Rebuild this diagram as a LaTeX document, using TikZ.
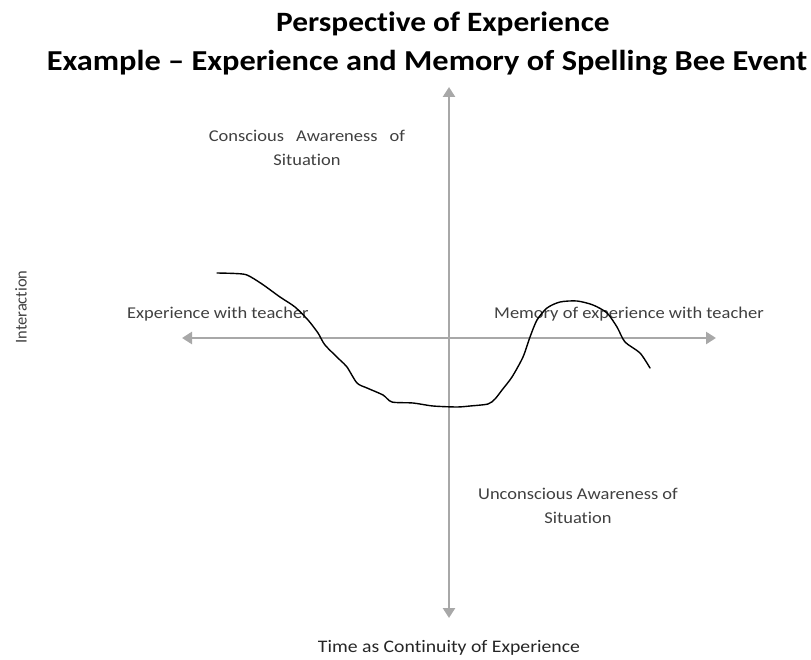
\documentclass[tikz,border=0pt]{standalone}
\usepackage{fontspec}
\setmainfont[FakeStretch=1.12,Ligatures=NoCommon]{Carlito}
\newfontfamily\plainfont[Ligatures=NoCommon]{Carlito}
\usetikzlibrary{arrows.meta}
\definecolor{axisgray}{HTML}{A8A8A8}
\definecolor{labelgray}{HTML}{404040}
\tikzset{
  axis/.style={draw=axisgray, line width=2.9pt, {Triangle[length=10pt,width=12pt]}-{Triangle[length=10pt,width=12pt]}},
  lbl/.style={text=labelgray, font=\fontsize{16.5}{20}\selectfont, inner sep=0pt, align=center},
  ttl/.style={text=black, font=\bfseries\fontsize{28.9}{34}\selectfont, inner sep=0pt},
  curve/.style={draw=black, line width=1.4pt, line join=round, line cap=round}
}
\begin{document}
\begin{tikzpicture}[x=1pt,y=-1pt]
\useasboundingbox (0,0) rectangle (811,660);
% title
\node[ttl, font=\bfseries\fontsize{28}{34}\selectfont] (t1) at (443,24) {Perspective of Experience};
\node[ttl] (t2) at (427,63) {Example -- Experience and Memory of Spelling Bee Event};
% axes
\coordinate (top) at (449,87);
\coordinate (bot) at (449,618);
\coordinate (lft) at (182,338);
\coordinate (rgt) at (716,338);
\draw[axis] (bot) -- (top);
\draw[axis] (lft) -- (rgt);
% labels
\node[lbl] (cons) at (307,148) {Conscious\hspace{8pt} Awareness\hspace{8pt} of\\[4pt]Situation};
\node[lbl] (uncons) at (578,506) {Unconscious Awareness of\\[4pt]Situation};
\node[lbl, anchor=west] (exp) at (127,314) {Experience with teacher};
\node[lbl, anchor=west] (mem) at (494,314) {Memory of experience with teacher};
\node[lbl, font=\plainfont\fontsize{16.5}{20}\selectfont, rotate=90] (inter) at (21,307) {Interaction};
\node[lbl, font=\fontsize{17.6}{22}\selectfont, text=black!85] (time) at (449,648) {Time as Continuity of Experience};
% curve
\draw[curve] plot[smooth, tension=0.45] coordinates {
 (217,273) (235,273.5) (247,275) (262,284) (280,297) (295,307) (308,320)
 (318,333) (325,345) (340,360) (347,367) (357,383) (367,388) (383,395)
 (392,402) (413,403) (433,406) (457,407) (470,406) (488,404) (495,399)
 (502,390) (512,377) (523,357) (530,337) (537,320) (547,308) (560,302)
 (577,301) (593,305) (607,313) (617,327) (625,342) (640,353) (650,368)};
\end{tikzpicture}
\end{document}
